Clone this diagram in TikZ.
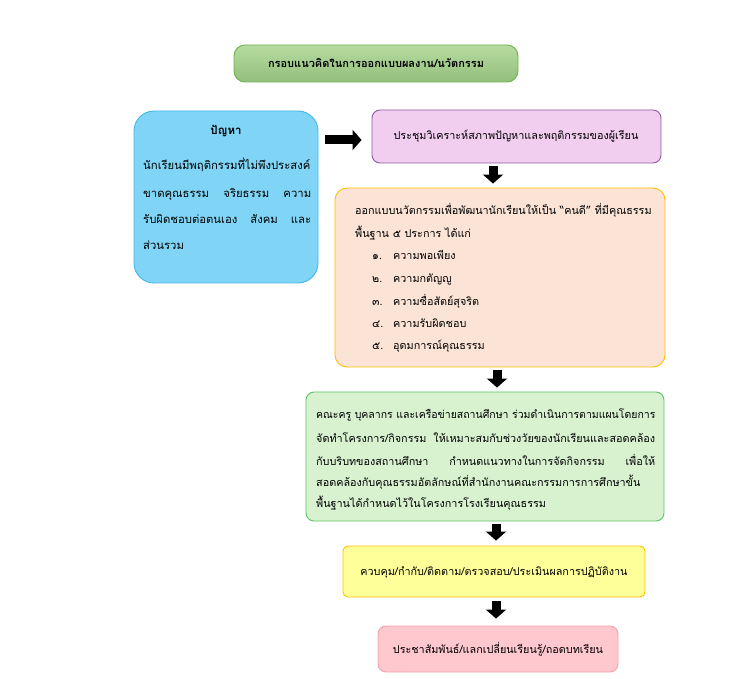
\documentclass[tikz,border=0pt]{standalone}
\usepackage{fontspec}
\usepackage{graphicx}
\setmainfont{Liberation Sans}
\newfontfamily\thaifont[Script=Thai]{Loma}
\usetikzlibrary{arrows.meta}
\definecolor{ttlfill}{HTML}{A4D38A}
\definecolor{ttldraw}{HTML}{6DB34A}
\definecolor{bluefill}{HTML}{80D5F6}
\definecolor{bluedraw}{HTML}{45B6E6}
\definecolor{purpfill}{HTML}{F1CDF0}
\definecolor{purpdraw}{HTML}{8E5AA6}
\definecolor{peachfill}{HTML}{FBE3D6}
\definecolor{golddraw}{HTML}{FFC000}
\definecolor{greenfill}{HTML}{D8F2D0}
\definecolor{greendraw}{HTML}{5CC466}
\definecolor{yelfill}{HTML}{FFFF99}
\definecolor{pinkfill}{HTML}{FFC8CE}
\definecolor{pinkdraw}{HTML}{F3A2AA}
\tikzset{
  box/.style={draw, line width=0.9pt, rounded corners=#1, inner sep=0pt},
  box/.default=8pt,
  txt/.style={font=\thaifont\fontsize{10.8}{13}\selectfont, inner sep=0pt, anchor=base west},
  btxt/.style={font=\thaifont\fontsize{11.3}{14}\selectfont, inner sep=0pt, anchor=base west},
  ctxt/.style={font=\thaifont\fontsize{10.8}{13}\selectfont, inner sep=0pt, anchor=base},
  blk/.style={line width=9pt, -{Triangle[width=20pt,length=9pt]}, black},
}
\begin{document}
\begin{tikzpicture}[x=1pt,y=-1pt]
\useasboundingbox (0,0) rectangle (729,679);
% boxes
\node[box=11pt, draw=ttldraw, top color=ttlfill!80!white, bottom color=ttlfill!90!black, minimum width=284pt, minimum height=37pt] (title) at (376,63.5) {};
\node[font=\thaifont\bfseries\fontsize{11}{13}\selectfont, inner sep=0pt, anchor=base] (titletxt) at (376,68) {กรอบแนวคิดในการออกแบบผลงาน/นวัตกรรม};
\node[box=20pt, draw=bluedraw, fill=bluefill, minimum width=184pt, minimum height=172pt] (prob) at (226,197) {};
\node[box=8pt, draw=purpdraw, fill=purpfill, minimum width=289pt, minimum height=53pt] (meet) at (516.5,136.5) {};
\node[box=12pt, draw=golddraw, fill=peachfill, minimum width=330pt, minimum height=179pt] (design) at (500,277.5) {};
\node[box=8pt, draw=greendraw, fill=greenfill, minimum width=358pt, minimum height=129pt] (act) at (485,456.5) {};
\node[box=5pt, draw=golddraw, fill=yelfill, minimum width=302pt, minimum height=51pt] (ctrl) at (494,571.5) {};
\node[box=8pt, draw=pinkdraw, fill=pinkfill, minimum width=240pt, minimum height=46pt] (pr) at (498,649) {};
% problem texts
\node[font=\thaifont\bfseries\fontsize{11.5}{13}\selectfont, inner sep=0pt, anchor=base] (probh) at (226,135) {ปัญหา};
\node[btxt] (p1) at (143,170) {นักเรียนมีพฤติกรรมที่ไม่พึงประสงค์};
\node[btxt] (p2) at (143,198) {\makebox[168pt][s]{ขาดคุณธรรม\hfill จริยธรรม\hfill ความ}};
\node[btxt] (p3) at (143,224) {\makebox[168pt][s]{รับผิดชอบต่อตนเอง\hfill สังคม\hfill และ}};
\node[btxt] (p4) at (143,250) {ส่วนรวม};
% meeting text
\node[ctxt] (meettxt) at (516,140) {ประชุมวิเคราะห์สภาพปัญหาและพฤติกรรมของผู้เรียน};
% design texts
\node[txt] (d1) at (355,215) {ออกแบบนวัตกรรมเพื่อพัฒนานักเรียนให้เป็น “คนดี” ที่มีคุณธรรม};
\node[txt] (d2) at (355,238) {พื้นฐาน ๕ ประการ ได้แก่};
\node[txt] (n1) at (372,260) {๑.}; \node[txt] (i1) at (393,260) {ความพอเพียง};
\node[txt] (n2) at (372,283) {๒.}; \node[txt] (i2) at (393,283) {ความกตัญญู};
\node[txt] (n3) at (372,306) {๓.}; \node[txt] (i3) at (393,306) {ความซื่อสัตย์สุจริต};
\node[txt] (n4) at (372,328) {๔.}; \node[txt] (i4) at (393,328) {ความรับผิดชอบ};
\node[txt] (n5) at (372,350) {๕.}; \node[txt] (i5) at (393,350) {อุดมการณ์คุณธรรม};
% activity texts
\node[txt] (a1) at (316,418) {\scalebox{0.972}[1]{คณะครู บุคลากร และเครือข่ายสถานศึกษา ร่วมดำเนินการตามแผนโดยการ}};
\node[txt] (a2) at (316,442) {\makebox[339pt][s]{จัดทำโครงการ/กิจกรรม\hfill ให้เหมาะสมกับช่วงวัยของนักเรียนและสอดคล้อง}};
\node[txt] (a3) at (316,465) {\makebox[339pt][s]{กับบริบทของสถานศึกษา\hfill กำหนดแนวทางในการจัดกิจกรรม\hfill เพื่อให้}};
\node[txt] (a4) at (316,486) {สอดคล้องกับคุณธรรมอัตลักษณ์ที่สำนักงานคณะกรรมการการศึกษาขั้น};
\node[txt] (a5) at (316,507) {พื้นฐานได้กำหนดไว้ในโครงการโรงเรียนคุณธรรม};
% control / pr texts
\node[ctxt] (ctrltxt) at (494,575) {ควบคุม/กำกับ/ติดตาม/ตรวจสอบ/ประเมินผลการปฏิบัติงาน};
\node[ctxt] (prtxt) at (498,653) {ประชาสัมพันธ์/แลกเปลี่ยนเรียนรู้/ถอดบทเรียน};
% arrow positions
\coordinate (ar0) at (0,140);
\coordinate (ar1) at (493,0);
\coordinate (ar2) at (497,0);
\coordinate (ar3) at (496,0);
\coordinate (ar4) at (496,0);
% block arrows
\draw[blk, shorten <=7pt, shorten >=10pt] (prob.east |- ar0) -- (meet.west |- ar0);
\draw[blk, shorten <=3pt, shorten >=4pt] (meet.south -| ar1) -- (design.north -| ar1);
\draw[blk, shorten <=3pt, shorten >=4pt] (design.south -| ar2) -- (act.north -| ar2);
\draw[blk, shorten <=3pt, shorten >=5pt] (act.south -| ar3) -- (ctrl.north -| ar3);
\draw[blk, shorten <=4pt, shorten >=7pt] (ctrl.south -| ar4) -- (pr.north -| ar4);
\end{tikzpicture}
\end{document}
